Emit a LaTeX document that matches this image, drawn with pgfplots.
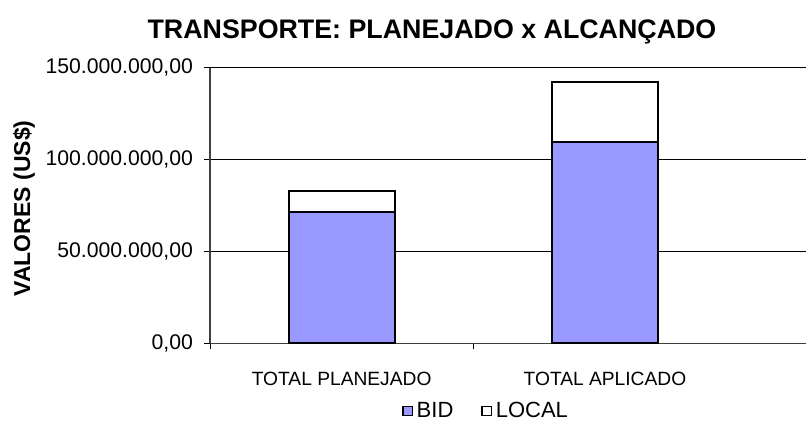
\documentclass[border=0pt]{standalone}
\usepackage{pgfplots}
\pgfplotsset{compat=1.18}
\usepackage{fontspec}
\setmainfont{Liberation Sans}
\definecolor{bidblue}{HTML}{9999FF}
\begin{document}
\begin{tikzpicture}
\useasboundingbox (0,0) rectangle (403pt,213pt);
\begin{axis}[
  at={(105pt,41.25pt)}, anchor=south west,
  scale only axis, width=298pt, height=137.9pt,
  ybar stacked, bar width=53pt,
  xmin=-0.5, xmax=1.7636, ymin=0, ymax=150,
  axis lines*=left,
  axis line style={line width=0.6pt, black!75},
  ytick={0,50,100,150},
  yticklabels={{0,00},{50.000.000,00},{100.000.000,00},{150.000.000,00}},
  xtick={-0.5,0.5}, xticklabels={},
  extra x ticks={0,1},
  extra x tick labels={TOTAL PLANEJADO,TOTAL APLICADO},
  extra x tick style={major tick length=0pt},
  tick align=outside, major tick length=3pt,
  tick style={black, line width=0.5pt},
  ymajorgrids, grid style={black, line width=0.5pt},
  yticklabel style={font=\fontsize{10.6}{12}\selectfont, xshift=-2pt},
  xticklabel style={font=\fontsize{9.6}{11}\selectfont, yshift=-11pt},
  title={TRANSPORTE: PLANEJADO x ALCANÇADO},
  title style={at={(0.3725,1.086)}, anchor=center, font=\bfseries\fontsize{13.4}{16}\selectfont},
  ylabel={VALORES (US\$)},
  ylabel style={at={(-0.312,0.49)}, anchor=center, font=\bfseries\fontsize{11.5}{14}\selectfont},
  legend style={at={(0.465,-0.245)}, anchor=center, draw=none, fill=none,
    legend columns=2, font=\fontsize{11}{13}\selectfont,
    /tikz/every even column/.append style={column sep=12pt}},
]
\addplot[fill=bidblue, draw=black, line width=1pt,
  legend image code/.code={\draw[fill=bidblue,draw=black,line width=0.6pt] (0pt,-2.3pt) rectangle (4.6pt,2.3pt);}]
  coordinates {(0,71.4) (1,109.8)};
\addplot[fill=white, draw=black, line width=1pt,
  legend image code/.code={\draw[fill=white,draw=black,line width=0.6pt] (0pt,-2.3pt) rectangle (4.6pt,2.3pt);}]
  coordinates {(0,11.7) (1,32.6)};
\legend{BID,LOCAL}
\end{axis}
\end{tikzpicture}
\end{document}
